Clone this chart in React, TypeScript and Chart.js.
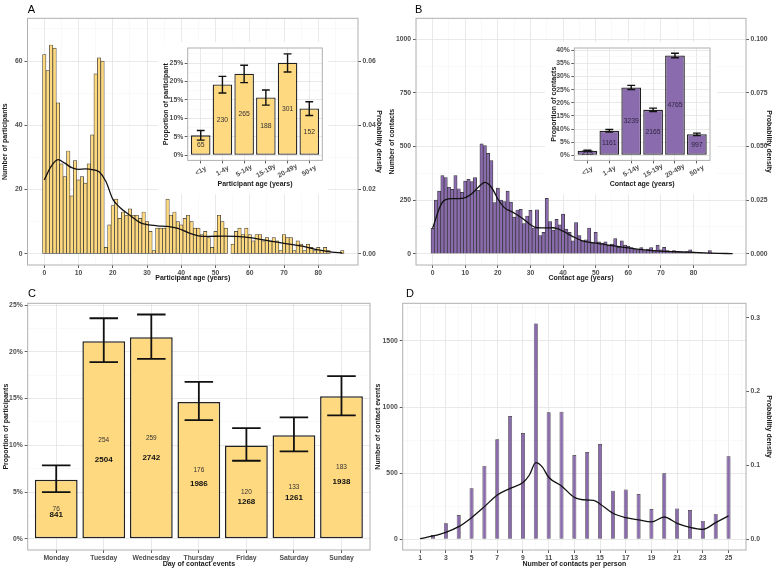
import React, { useEffect, useRef } from 'react';
import { Chart, registerables } from 'chart.js';

Chart.register(...registerables);

const FONT = '"Liberation Sans", Arial, Helvetica, sans-serif';
const YELLOW = '#FFD97F';
const PURPLE = '#8A6BAD';
const EDGE = '#333333';
const GRID_MAJOR = '#E6E6E6';
const GRID_MINOR = '#F3F3F3';
const TICK_TEXT = '#4D4D4D';
const TITLE_TEXT = '#1A1A1A';
const BORDER = '#B0B0B0';

// ---------- Panel A: participant ages (1-year bins, age = index) ----------
const participantCounts = [
  62, 57, 65, 64, 47, 28, 24, 32, 18, 29,
  23, 24, 22, 28, 37, 56, 61, 60, 2, 9,
  15, 17, 11, 13, 12, 14, 12, 12, 11, 13,
  10, 7, 1, 8, 8, 8, 17, 12, 13, 10,
  9, 11, 12, 10, 8, 8, 6, 7, 5, 2,
  7, 12, 10, 8, 0, 3, 7, 8, 6, 8,
  6, 4, 6, 6, 4, 5, 4, 5, 4, 1,
  6, 5, 5, 1, 4, 3, 1, 3, 2, 1,
  2, 1, 2, 1, 0, 0, 0, 1,
];
const participantDensityAges = [0, 2, 4, 6, 8, 10, 12, 14, 16, 18, 20, 22, 25, 28, 30, 33, 36, 39, 42, 45, 48, 52, 56, 60, 64, 68, 72, 76, 80, 84, 87];
const participantDensity = [0.023, 0.0272, 0.0293, 0.0282, 0.0268, 0.0263, 0.0264, 0.0262, 0.0255, 0.0225, 0.017, 0.0145, 0.012, 0.0097, 0.0091, 0.0087, 0.0085, 0.0079, 0.0066, 0.0056, 0.0054, 0.0055, 0.0054, 0.005, 0.0043, 0.0036, 0.0029, 0.0022, 0.0012, 0.0005, 0.0003];
const ageTicks = [0, 10, 20, 30, 40, 50, 60, 70, 80];
const ageMinorTicks = [-5, 5, 15, 25, 35, 45, 55, 65, 75, 85];
const participantCountTicks = [0, 20, 40, 60];
const participantCountMinorTicks = [10, 30, 50, 70];
const participantDensityTicks = [0, 0.02, 0.04, 0.06];

// ---------- Inset A ----------
const ageGroups = ['<1y', '1-4y', '5-14y', '15-19y', '20-49y', '50+y'];
const participantShare = [5.4, 19.2, 22.1, 15.7, 25.1, 12.7];
const participantShareLow = [4.1, 16.9, 19.7, 13.6, 22.6, 10.8];
const participantShareHigh = [6.7, 21.4, 24.4, 17.7, 27.5, 14.5];
const participantGroupN = [65, 230, 265, 188, 301, 152];
const participantShareTicks = [0, 5, 10, 15, 20, 25];
const participantShareMinorTicks = [2.5, 7.5, 12.5, 17.5, 22.5, 27.5];

// ---------- Panel B: contact ages ----------
const contactCounts = [
  118, 250, 292, 364, 355, 310, 300, 364, 303, 286,
  339, 347, 336, 355, 296, 512, 504, 468, 434, 238,
  306, 250, 243, 292, 241, 171, 204, 207, 140, 176,
  202, 120, 205, 85, 100, 258, 150, 110, 160, 135,
  185, 115, 100, 60, 145, 85, 60, 65, 120, 50,
  100, 55, 50, 55, 40, 45, 70, 30, 60, 40,
  35, 28, 22, 18, 28, 14, 22, 28, 14, 40,
  18, 30, 14, 10, 14, 10, 9, 7, 10, 18,
  7, 5, 4, 3, 2, 14, 2, 1, 1, 1,
  1, 1,
];
const contactDensityAges = [0, 1, 2, 3, 4, 6, 8, 10, 12, 14, 16, 17, 18, 19, 20, 22, 25, 28, 30, 32, 35, 37, 40, 43, 46, 50, 55, 60, 65, 70, 75, 80, 85, 90, 92];
const contactDensity = [0.0118, 0.0165, 0.021, 0.024, 0.0252, 0.0257, 0.0257, 0.0262, 0.028, 0.031, 0.0333, 0.0326, 0.031, 0.0285, 0.0255, 0.0215, 0.019, 0.016, 0.0135, 0.0121, 0.012, 0.0121, 0.0105, 0.008, 0.006, 0.0049, 0.0038, 0.0027, 0.0018, 0.0012, 0.0009, 0.0006, 0.0003, 0.0001, 0];
const contactCountTicks = [0, 250, 500, 750, 1000];
const contactCountMinorTicks = [125, 375, 625, 875];
const contactDensityTicks = [0, 0.025, 0.05, 0.075, 0.1];

// ---------- Inset B ----------
const contactShare = [1.7, 9.3, 25.8, 17.3, 38.0, 8.0];
const contactShareLow = [1.45, 8.8, 25.05, 16.65, 37.15, 7.5];
const contactShareHigh = [1.95, 9.8, 26.6, 17.95, 38.85, 8.45];
const contactGroupN = [213, 1161, 3239, 2165, 4765, 997];
const contactShareTicks = [0, 5, 10, 15, 20, 25, 30, 35, 40];
const contactShareMinorTicks = [2.5, 7.5, 12.5, 17.5, 22.5, 27.5, 32.5, 37.5];

// ---------- Panel C ----------
const days = ['Monday', 'Tuesday', 'Wednesday', 'Thursday', 'Friday', 'Saturday', 'Sunday'];
const dayShare = [6.33, 21.15, 21.57, 14.65, 9.99, 11.07, 15.24];
const dayShareLow = [5.0, 18.9, 19.25, 12.7, 8.35, 9.35, 13.2];
const dayShareHigh = [7.85, 23.6, 24.0, 16.8, 11.85, 13.0, 17.4];
const dayParticipants = [76, 254, 259, 176, 120, 133, 183];
const dayContacts = [841, 2504, 2742, 1986, 1268, 1261, 1938];
const dayShareTicks = [0, 5, 10, 15, 20, 25];
const dayShareMinorTicks = [2.5, 7.5, 12.5, 17.5, 22.5];

// ---------- Panel D ----------
const contactsPerPerson = [1, 2, 3, 4, 5, 6, 7, 8, 9, 10, 11, 12, 13, 14, 15, 16, 17, 18, 19, 20, 21, 22, 23, 24, 25];
const contactEvents = [3, 33, 121, 184, 386, 555, 756, 933, 804, 1633, 960, 965, 638, 660, 721, 368, 376, 343, 229, 499, 232, 222, 139, 192, 628];
const perPersonDensityX = [1, 2, 3, 4, 5, 6, 7, 8, 9, 9.5, 10, 10.5, 11, 12, 13, 14, 14.5, 15, 16, 17, 18, 19, 20, 21, 22, 23, 24, 25];
const perPersonDensity = [0.0009, 0.0045, 0.0095, 0.0171, 0.0293, 0.0442, 0.06, 0.069, 0.0767, 0.087, 0.1037, 0.098, 0.0839, 0.0722, 0.0568, 0.0532, 0.0528, 0.0478, 0.0352, 0.0293, 0.0262, 0.0235, 0.0302, 0.0216, 0.0162, 0.0135, 0.0226, 0.0316];
const perPersonTicks = [1, 3, 5, 7, 9, 11, 13, 15, 17, 19, 21, 23, 25];
const perPersonMinorTicks = [0, 2, 4, 6, 8, 10, 12, 14, 16, 18, 20, 22, 24, 26];
const eventTicks = [0, 500, 1000, 1500];
const eventMinorTicks = [250, 750, 1250, 1750];
const perPersonDensityTicks = [0, 0.1, 0.2, 0.3];

// ---------- layout boxes (canvas + plot area, page coords) ----------
type Box = { L: number; T: number; W: number; H: number; l: number; t: number; r: number; b: number };
const boxA: Box = { L: 0, T: 0, W: 388, H: 286, l: 27.5, t: 18.3, r: 358, b: 265 };
const boxB: Box = { L: 388, T: 0, W: 388, H: 286, l: 416, t: 18.3, r: 746, b: 265 };
const boxC: Box = { L: 0, T: 285, W: 372, H: 286, l: 27.7, t: 303.3, r: 370, b: 550 };
const boxD: Box = { L: 370, T: 285, W: 406, H: 286, l: 402.7, t: 303.3, r: 746, b: 550 };
const boxIA: Box = { L: 158, T: 42, W: 170, H: 152, l: 187.7, t: 48, r: 322.3, b: 160.4 };
const boxIB: Box = { L: 545, T: 42, W: 172, H: 152, l: 574.3, t: 48, r: 710, b: 160.4 };

type AxisSpec = {
  position: 'left' | 'right' | 'bottom';
  min: number;
  max: number;
  majors: number[];
  minors?: number[];
  format?: (v: number) => string;
  size: number;
  title?: string;
  titlePad?: number;
  grid?: boolean;
  tickPad?: number;
  showLabels?: boolean;
  fontSize?: number;
  titleSize?: number;
};

function makeAxis(s: AxisSpec): any {
  const majors = new Set(s.majors);
  const all = [...s.majors, ...(s.minors || [])].sort((a, b) => a - b);
  const isMajor = (c: any) => !!c.tick && majors.has(c.tick.value);
  const horizontal = s.position === 'bottom';
  return {
    type: 'linear',
    position: s.position,
    min: s.min,
    max: s.max,
    offset: false,
    afterBuildTicks: (sc: any) => {
      sc.ticks = all.map((v) => ({ value: v }));
    },
    afterFit: (sc: any) => {
      if (horizontal) sc.height = s.size;
      else sc.width = s.size;
    },
    grid: {
      offset: false,
      drawOnChartArea: s.grid !== false,
      drawTicks: true,
      tickLength: 3,
      color: (c: any) => (isMajor(c) ? GRID_MAJOR : GRID_MINOR),
      lineWidth: (c: any) => (isMajor(c) ? 0.9 : 0.5),
      tickColor: (c: any) => (isMajor(c) ? '#333333' : 'rgba(0,0,0,0)'),
      tickWidth: 0.8,
    },
    border: { display: false },
    ticks: {
      display: s.showLabels !== false,
      autoSkip: false,
      maxRotation: 0,
      minRotation: 0,
      padding: s.tickPad ?? 1,
      color: TICK_TEXT,
      font: { family: FONT, size: s.fontSize ?? 6.8, weight: 'bold' },
      callback: (v: any) => (majors.has(v) ? (s.format ? s.format(v) : String(v)) : ''),
    },
    title: s.title
      ? {
          display: true,
          text: s.title,
          color: TITLE_TEXT,
          font: { family: FONT, size: s.titleSize ?? 7, weight: 'bold' },
          padding: { top: s.titlePad ?? 1, bottom: s.titlePad ?? 1 },
        }
      : { display: false },
  };
}

function baseOptions(box: Box, hasRightAxis: boolean): any {
  return {
    responsive: false,
    animation: false,
    devicePixelRatio: 1,
    events: [],
    layout: {
      padding: { top: box.t - box.T, left: 0, bottom: 0, right: hasRightAxis ? 0 : box.L + box.W - box.r },
    },
    plugins: { legend: { display: false }, tooltip: { enabled: false } },
  };
}

const panelBorder = {
  id: 'panelBorder',
  afterDraw(chart: any) {
    const { ctx, chartArea: a } = chart;
    ctx.save();
    ctx.strokeStyle = BORDER;
    ctx.lineWidth = 1;
    ctx.strokeRect(a.left, a.top, a.right - a.left, a.bottom - a.top);
    ctx.restore();
  },
};

function errorBars(low: number[], high: number[], capHalf: number, width: number) {
  return {
    id: 'errorBars',
    afterDatasetsDraw(chart: any) {
      const { ctx } = chart;
      const xs = chart.scales.x;
      const ys = chart.scales.y;
      ctx.save();
      ctx.strokeStyle = '#111111';
      ctx.lineWidth = width;
      low.forEach((lo, i) => {
        const cx = xs.getPixelForValue(i);
        const half = Math.abs(xs.getPixelForValue(i + capHalf) - cx);
        const y1 = ys.getPixelForValue(lo);
        const y2 = ys.getPixelForValue(high[i]);
        ctx.beginPath();
        ctx.moveTo(cx, y1);
        ctx.lineTo(cx, y2);
        ctx.moveTo(cx - half, y1);
        ctx.lineTo(cx + half, y1);
        ctx.moveTo(cx - half, y2);
        ctx.lineTo(cx + half, y2);
        ctx.stroke();
      });
      ctx.restore();
    },
  };
}

type LabelSpec = { values: number[]; texts: (string | number)[]; frac: number; font: string; color: string };
function barLabels(specs: LabelSpec[]) {
  return {
    id: 'barLabels',
    afterDatasetsDraw(chart: any) {
      const { ctx } = chart;
      const xs = chart.scales.x;
      const ys = chart.scales.y;
      ctx.save();
      ctx.textAlign = 'center';
      ctx.textBaseline = 'middle';
      specs.forEach((s) => {
        ctx.font = s.font;
        ctx.fillStyle = s.color;
        s.values.forEach((v, i) => {
          ctx.fillText(String(s.texts[i]), xs.getPixelForValue(i), ys.getPixelForValue(v * s.frac));
        });
      });
      ctx.restore();
    },
  };
}

function slantedLabels(labels: string[], angle: number) {
  return {
    id: 'slantedLabels',
    afterDraw(chart: any) {
      const { ctx, chartArea } = chart;
      const xs = chart.scales.x;
      ctx.save();
      ctx.font = `bold 6.8px ${FONT}`;
      ctx.fillStyle = TICK_TEXT;
      ctx.textAlign = 'center';
      ctx.textBaseline = 'middle';
      labels.forEach((t, i) => {
        ctx.save();
        ctx.translate(xs.getPixelForValue(i), chartArea.bottom + 10.5);
        ctx.rotate((-angle * Math.PI) / 180);
        ctx.fillText(t, 0, 0);
        ctx.restore();
      });
      ctx.restore();
    },
  };
}

// ---------- chart builders ----------
function buildHistogram(
  canvas: HTMLCanvasElement,
  box: Box,
  counts: number[],
  densX: number[],
  dens: number[],
  color: string,
  x: { min: number; max: number },
  y: { min: number; max: number },
  ratio: number,
  yTicks: number[],
  yMinor: number[],
  densTicks: number[],
  densDigits: number,
  xTitle: string,
  yTitle: string,
  pads: { yTitle: number; y2Title: number; xTitle: number },
) {
  return new Chart(canvas, {
    type: 'bar',
    data: {
      datasets: [
        {
          type: 'line',
          data: densX.map((v, i) => ({ x: v, y: dens[i] })),
          yAxisID: 'y2',
          borderColor: '#111111',
          borderWidth: 1.3,
          pointRadius: 0,
          cubicInterpolationMode: 'monotone',
          order: 0,
        } as any,
        {
          type: 'bar',
          data: counts.map((c, age) => ({ x: age, y: c })),
          yAxisID: 'y',
          backgroundColor: color,
          borderColor: EDGE,
          borderWidth: 0.7,
          borderSkipped: false,
          barPercentage: 1,
          categoryPercentage: 1,
          order: 1,
        } as any,
      ],
    },
    options: {
      ...baseOptions(box, true),
      scales: {
        x: makeAxis({
          position: 'bottom', min: x.min, max: x.max, majors: ageTicks, minors: ageMinorTicks,
          size: box.T + box.H - box.b, title: xTitle, titlePad: pads.xTitle,
        }),
        y: makeAxis({
          position: 'left', min: y.min, max: y.max, majors: yTicks, minors: yMinor,
          size: box.l - box.L, title: yTitle, titlePad: pads.yTitle, tickPad: 2,
        }),
        y2: makeAxis({
          position: 'right', min: y.min / ratio, max: y.max / ratio, majors: densTicks,
          format: (v) => v.toFixed(densDigits), size: box.L + box.W - box.r, grid: false,
          title: 'Probability density', titlePad: pads.y2Title, tickPad: 1.5,
        }),
      },
    } as any,
    plugins: [panelBorder],
  });
}

function buildInset(
  canvas: HTMLCanvasElement,
  box: Box,
  share: number[],
  low: number[],
  high: number[],
  n: number[],
  color: string,
  labelColor: string,
  y: { min: number; max: number },
  yTicks: number[],
  yMinor: number[],
  xTitle: string,
  yTitle: string,
  yTitlePad: number,
) {
  return new Chart(canvas, {
    type: 'bar',
    data: {
      datasets: [
        {
          data: share.map((v, i) => ({ x: i, y: v })),
          backgroundColor: color,
          borderColor: '#222222',
          borderWidth: 1.3,
          borderSkipped: false,
          barPercentage: 0.9,
          categoryPercentage: 1,
        } as any,
      ],
    },
    options: {
      ...baseOptions(box, false),
      scales: {
        x: makeAxis({
          position: 'bottom', min: -0.6, max: ageGroups.length - 0.4, majors: ageGroups.map((_, i) => i),
          size: box.T + box.H - box.b, title: xTitle, titlePad: 5.5, showLabels: false,
        }),
        y: makeAxis({
          position: 'left', min: y.min, max: y.max, majors: yTicks, minors: yMinor,
          format: (v) => `${v}%`, size: box.l - box.L, title: yTitle, titlePad: yTitlePad, tickPad: 1.5,
        }),
      },
    } as any,
    plugins: [
      errorBars(low, high, 0.18, 1.4),
      barLabels([{ values: share, texts: n, frac: 0.5, font: `6.8px ${FONT}`, color: labelColor }]),
      slantedLabels(ageGroups, 30),
      panelBorder,
    ],
  });
}

function buildDays(canvas: HTMLCanvasElement, box: Box) {
  return new Chart(canvas, {
    type: 'bar',
    data: {
      datasets: [
        {
          data: dayShare.map((v, i) => ({ x: i, y: v })),
          backgroundColor: YELLOW,
          borderColor: '#222222',
          borderWidth: 1.5,
          borderSkipped: false,
          barPercentage: 0.9,
          categoryPercentage: 1,
        } as any,
      ],
    },
    options: {
      ...baseOptions(box, false),
      scales: {
        x: makeAxis({
          position: 'bottom', min: -0.6, max: days.length - 0.4, majors: days.map((_, i) => i),
          format: (v) => days[v], size: box.T + box.H - box.b, title: 'Day of contact events', titlePad: 2.5,
        }),
        y: makeAxis({
          position: 'left', min: -1.2, max: 25.2, majors: dayShareTicks, minors: dayShareMinorTicks,
          format: (v) => `${v}%`, size: box.l - box.L, title: 'Proportion of participants', titlePad: 1.5, tickPad: 2,
        }),
      },
    } as any,
    plugins: [
      errorBars(dayShareLow, dayShareHigh, 0.3, 1.8),
      barLabels([
        { values: dayShare, texts: dayParticipants, frac: 0.5, font: `6.5px ${FONT}`, color: '#333333' },
        { values: dayShare, texts: dayContacts, frac: 0.4, font: `bold 8px ${FONT}`, color: '#111111' },
      ]),
      panelBorder,
    ],
  });
}

function buildPerPerson(canvas: HTMLCanvasElement, box: Box) {
  const ratio = 5589;
  const yMin = -81;
  const yMax = 1785;
  return new Chart(canvas, {
    type: 'bar',
    data: {
      datasets: [
        {
          type: 'line',
          data: perPersonDensityX.map((v, i) => ({ x: v, y: perPersonDensity[i] })),
          yAxisID: 'y2',
          borderColor: '#111111',
          borderWidth: 1.3,
          pointRadius: 0,
          cubicInterpolationMode: 'monotone',
          order: 0,
        } as any,
        {
          type: 'bar',
          data: contactsPerPerson.map((v, i) => ({ x: v, y: contactEvents[i] })),
          yAxisID: 'y',
          backgroundColor: PURPLE,
          borderColor: EDGE,
          borderWidth: 0.7,
          borderSkipped: false,
          barPercentage: 0.31,
          categoryPercentage: 1,
          order: 1,
        } as any,
      ],
    },
    options: {
      ...baseOptions(box, true),
      scales: {
        x: makeAxis({
          position: 'bottom', min: -0.36, max: 26.36, majors: perPersonTicks, minors: perPersonMinorTicks,
          size: box.T + box.H - box.b, title: 'Number of contacts per person', titlePad: 2.5,
        }),
        y: makeAxis({
          position: 'left', min: yMin, max: yMax, majors: eventTicks, minors: eventMinorTicks,
          size: box.l - box.L, title: 'Number of contact events', titlePad: 3.8, tickPad: 2,
        }),
        y2: makeAxis({
          position: 'right', min: yMin / ratio, max: yMax / ratio, majors: perPersonDensityTicks,
          format: (v) => v.toFixed(1), size: box.L + box.W - box.r, grid: false,
          title: 'Probability density', titlePad: 2.5, tickPad: 1.5,
        }),
      },
    } as any,
    plugins: [panelBorder],
  });
}

function ChartCanvas({ box, make, white }: { box: Box; make: (c: HTMLCanvasElement) => Chart; white?: boolean }) {
  const ref = useRef<HTMLCanvasElement>(null);
  useEffect(() => {
    const chart = make(ref.current as HTMLCanvasElement);
    return () => chart.destroy();
  }, []);
  return (
    <canvas
      ref={ref}
      width={box.W}
      height={box.H}
      style={{
        position: 'absolute', left: box.L, top: box.T, width: box.W, height: box.H,
        background: white ? '#ffffff' : 'transparent',
      }}
    />
  );
}

function PanelLetter({ text, left, top }: { text: string; left: number; top: number }) {
  return (
    <div style={{ position: 'absolute', left, top, fontFamily: FONT, fontSize: 11, lineHeight: '11px', color: '#000' }}>
      {text}
    </div>
  );
}

export default function App() {
  useEffect(() => {
    document.body.style.margin = '0';
  }, []);
  return (
    <div style={{ position: 'relative', width: 776, height: 571, background: '#ffffff', overflow: 'hidden' }}>
      <ChartCanvas
        box={boxA}
        make={(c) =>
          buildHistogram(
            c, boxA, participantCounts, participantDensityAges, participantDensity, YELLOW,
            { min: -4.9, max: 91.6 }, { min: -3.5, max: 73.3 }, 1000,
            participantCountTicks, participantCountMinorTicks, participantDensityTicks, 2,
            'Participant age (years)', 'Number of participants', { yTitle: 1.1, y2Title: 5.3, xTitle: 3.3 },
          )
        }
      />
      <ChartCanvas
        box={boxB}
        make={(c) =>
          buildHistogram(
            c, boxB, contactCounts, contactDensityAges, contactDensity, PURPLE,
            { min: -5.1, max: 96.1 }, { min: -52.7, max: 1098 }, 10000,
            contactCountTicks, contactCountMinorTicks, contactDensityTicks, 3,
            'Contact age (years)', 'Number of contacts', { yTitle: 0, y2Title: 2.5, xTitle: 4.1 },
          )
        }
      />
      <ChartCanvas box={boxC} make={(c) => buildDays(c, boxC)} />
      <ChartCanvas box={boxD} make={(c) => buildPerPerson(c, boxD)} />
      <ChartCanvas
        white
        box={boxIA}
        make={(c) =>
          buildInset(
            c, boxIA, participantShare, participantShareLow, participantShareHigh, participantGroupN,
            YELLOW, '#333333', { min: -1.4, max: 29.1 }, participantShareTicks, participantShareMinorTicks,
            'Participant age (years)', 'Proportion of participant', 3.5,
          )
        }
      />
      <ChartCanvas
        white
        box={boxIB}
        make={(c) =>
          buildInset(
            c, boxIB, contactShare, contactShareLow, contactShareHigh, contactGroupN,
            PURPLE, '#2E2640', { min: -1.95, max: 40.85 }, contactShareTicks, contactShareMinorTicks,
            'Contact age (years)', 'Proportion of contacts', 4.5,
          )
        }
      />
      <PanelLetter text="A" left={27.7} top={3.6} />
      <PanelLetter text="B" left={415} top={3.6} />
      <PanelLetter text="C" left={28} top={287.6} />
      <PanelLetter text="D" left={406} top={287.6} />
    </div>
  );
}
